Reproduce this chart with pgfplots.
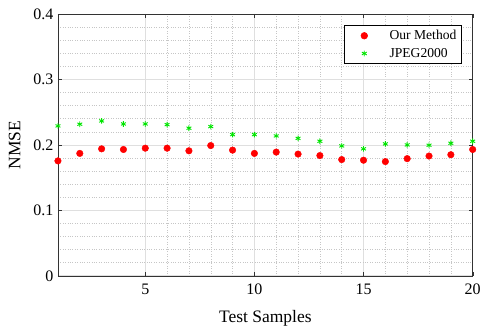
\documentclass[border=0pt]{standalone}
\usepackage{pgfplots}
\pgfplotsset{compat=1.18}
\usepackage{fontspec}
\setmainfont{Liberation Serif}
\begin{document}
\begin{tikzpicture}[x=1pt,y=1pt]
\begin{axis}[
  name=ax,
  scale only axis,
  width=415pt, height=262pt,
  xmin=1, xmax=20, ymin=0, ymax=0.4,
  xtick={5,10,15,20},
  ytick={0,0.1,0.2,0.3,0.4},
  yticklabels={0,0.1,0.2,0.3,0.4},
  xticklabels={5,10,15,20},
  minor x tick num=4,
  minor y tick num=4,
  grid=both,
  major grid style={gray!25, line width=0.8pt},
  minor grid style={gray!45, dotted, line width=0.5pt},
  axis line style={black!80, line width=0.6pt},
  tick align=inside,
  major tick length=4pt,
  minor tick length=0pt,
  tick style={black!80},
  ticklabel style={font=\fontsize{16}{18}\selectfont},
  xticklabel style={yshift=-5pt},
  yticklabel style={xshift=-1pt},
  xlabel={Test Samples},
  ylabel={NMSE},
  label style={font=\fontsize{17.5}{19}\selectfont},
  xlabel style={yshift=-8pt},
  ylabel style={yshift=6pt},
  legend style={at={(0.9735,0.958)}, anchor=north east, draw=black, line width=0.6pt,
    font=\fontsize{13.6}{15}\selectfont, row sep=3pt, inner xsep=3pt, inner ysep=3pt},
  legend cell align=left,
  legend image code/.code={\path (0pt,0pt) (40pt,0pt); \draw[#1] plot coordinates {(17pt,0pt)};},
]
\addplot[only marks, mark=*, mark size=3.3pt, red, mark options={fill=red, draw=red}] coordinates {
(1,0.1756) (2,0.187) (3,0.194) (4,0.193) (5,0.195) (6,0.195) (7,0.191) (8,0.199) (9,0.192) (10,0.187)
(11,0.189) (12,0.186) (13,0.1837) (14,0.1776) (15,0.1766) (16,0.1745) (17,0.179) (18,0.183) (19,0.185) (20,0.193)
};
\addlegendentry{Our Method}
\addplot[only marks, mark=asterisk, mark size=2.8pt, green!90!black, mark options={line width=0.9pt}] coordinates {
(1,0.229) (2,0.2316) (3,0.2366) (4,0.232) (5,0.232) (6,0.231) (7,0.2255) (8,0.228) (9,0.2157) (10,0.2157)
(11,0.2137) (12,0.210) (13,0.2056) (14,0.1985) (15,0.194) (16,0.2015) (17,0.2) (18,0.1995) (19,0.2025) (20,0.2056)
};
\addlegendentry{JPEG2000}
\end{axis}
\path ([shift={(-58pt,-49pt)}]ax.south west) rectangle ([shift={(11pt,14pt)}]ax.north east);
\end{tikzpicture}
\end{document}
